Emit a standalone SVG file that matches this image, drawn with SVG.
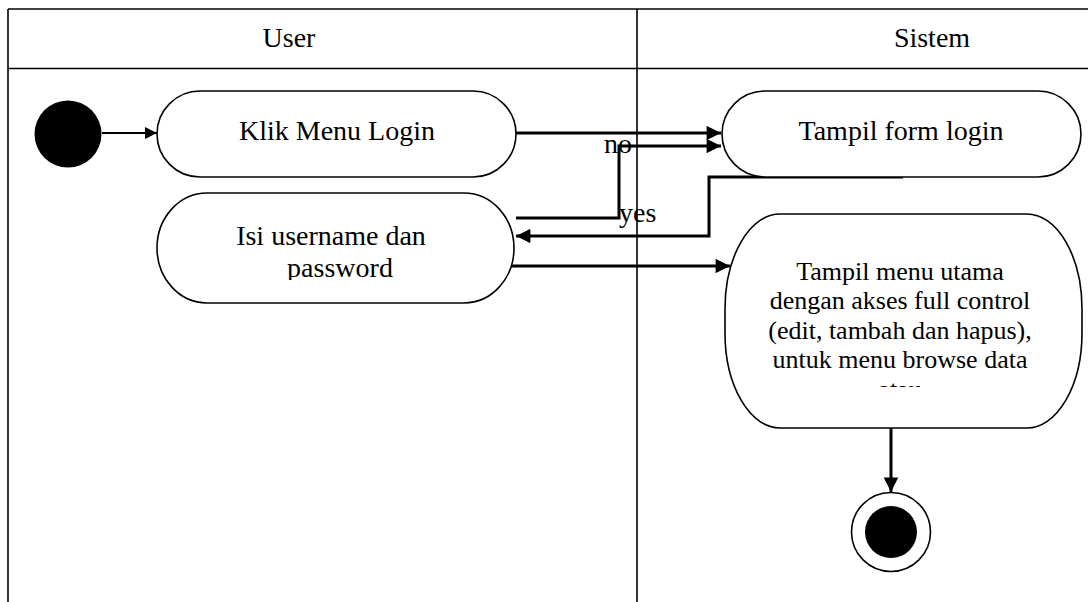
<svg xmlns="http://www.w3.org/2000/svg" width="1088" height="602" viewBox="0 0 1088 602">
  <style>
    .lane { stroke: #000; stroke-width: 1.6; fill: none; }
    .node { fill: #fff; stroke: #000; stroke-width: 1.6; }
    .label { font-family: "Liberation Serif", "Times New Roman", serif; font-size: 28px; fill: #000; }
    .small { font-size: 26px; }
    .mid { text-anchor: middle; }
    .flow { stroke: #000; stroke-width: 3; fill: none; }
    .thin { stroke-width: 2; }
  </style>
  <defs>
    <marker id="arrow" viewBox="0 0 10 10" refX="10" refY="5" markerWidth="5.8" markerHeight="4.8" markerUnits="strokeWidth" orient="auto">
      <path d="M0,0 L10,5 L0,10 Z" fill="#000"/>
    </marker>
    <marker id="arrowThin" viewBox="0 0 10 10" refX="10" refY="5" markerWidth="7" markerHeight="6" markerUnits="strokeWidth" orient="auto">
      <path d="M0,0 L10,5 L0,10 Z" fill="#000"/>
    </marker>
    <clipPath id="clipIsi"><rect x="150" y="190" width="380" height="90"/></clipPath>
    <clipPath id="clipMenu"><rect x="720" y="210" width="370" height="177"/></clipPath>
  </defs>

  <!-- swimlane frame -->
  <g id="swimlanes">
    <line class="lane" x1="8" y1="9" x2="1088" y2="9"/>
    <line class="lane" x1="8" y1="68.5" x2="1088" y2="68.5"/>
    <line class="lane" x1="8" y1="9" x2="8" y2="602"/>
    <line class="lane" x1="637" y1="9" x2="637" y2="602"/>
    <text class="label mid" x="289" y="47">User</text>
    <text class="label mid" x="932" y="47">Sistem</text>
  </g>

  <!-- connectors -->
  <g id="connectors">
    <line class="flow thin" x1="102" y1="133" x2="157" y2="133" marker-end="url(#arrowThin)"/>
    <line class="flow" x1="516" y1="133" x2="721" y2="133" marker-end="url(#arrow)"/>
    <polyline class="flow" points="516,218 619,218 619,146 721,146" marker-end="url(#arrow)"/>
    <polyline class="flow" points="903,177 709,177 709,236 516,236" marker-end="url(#arrow)"/>
    <line class="flow" x1="511" y1="266" x2="730" y2="266" marker-end="url(#arrow)"/>
    <line class="flow" x1="891" y1="428" x2="891" y2="492" marker-end="url(#arrow)"/>
    <text class="label" x="604" y="153">no</text>
    <text class="label" x="619" y="222">yes</text>
  </g>

  <!-- start node -->
  <g id="start">
    <circle cx="68" cy="134" r="33.5" fill="#000"/>
  </g>

  <g id="klik-menu-login">
    <rect class="node" x="157" y="91" width="359" height="86" rx="43" ry="43"/>
    <text class="label mid" x="337" y="140">Klik Menu Login</text>
  </g>

  <g id="isi-username">
    <rect class="node" x="157" y="193" width="357" height="110" rx="50" ry="55"/>
    <g clip-path="url(#clipIsi)">
      <text class="label mid" x="331" y="245">Isi username dan</text>
      <text class="label mid" x="340" y="277">password</text>
    </g>
  </g>

  <g id="tampil-form-login">
    <rect class="node" x="722" y="91" width="359" height="86" rx="43" ry="43"/>
    <text class="label mid" x="901" y="140">Tampil form login</text>
  </g>

  <g id="tampil-menu-utama">
    <rect class="node" x="725" y="214" width="357" height="214" rx="55" ry="95"/>
    <g clip-path="url(#clipMenu)">
      <text class="label small mid" x="900" y="280">Tampil menu utama</text>
      <text class="label small mid" x="900" y="309">dengan akses full control</text>
      <text class="label small mid" x="900" y="339">(edit, tambah dan hapus),</text>
      <text class="label small mid" x="900" y="368">untuk menu browse data</text>
      <text class="label small mid" x="900" y="398">atau</text>
    </g>
  </g>

  <!-- end node -->
  <g id="end">
    <circle cx="891" cy="532" r="39.5" fill="#fff" stroke="#000" stroke-width="1.6"/>
    <circle cx="891" cy="532" r="26" fill="#000"/>
  </g>
</svg>
